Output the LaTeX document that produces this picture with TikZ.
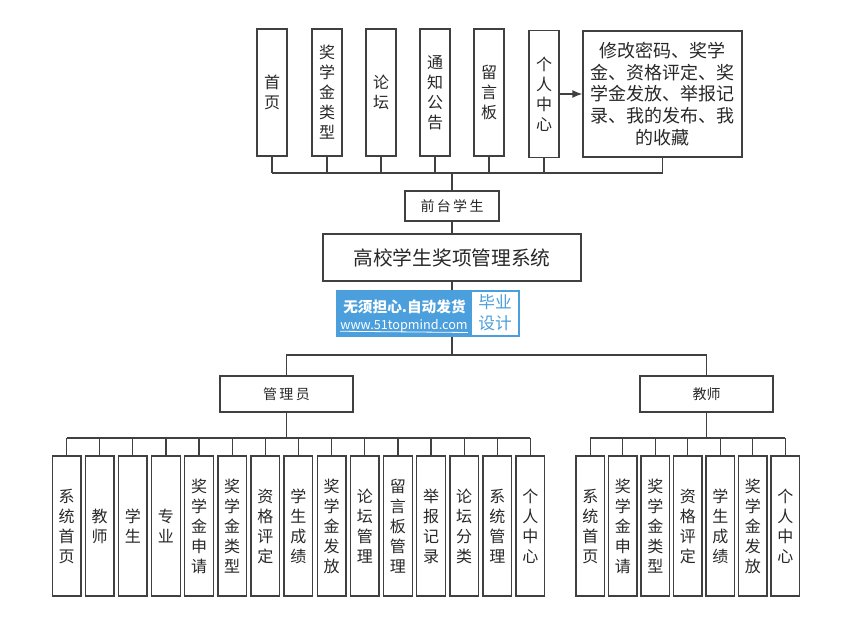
\documentclass[tikz,border=0pt]{standalone}
\usepackage{fontspec}
\newfontfamily\cjk{Noto Sans CJK SC}
\usetikzlibrary{arrows.meta}
\definecolor{lc}{RGB}{64,64,64}
\definecolor{tc}{RGB}{40,40,40}
\definecolor{wm}{RGB}{75,159,220}
\begin{document}
\begin{tikzpicture}[x=0.75pt,y=-0.75pt,
  box/.style={draw=lc,line width=1pt,inner sep=0pt,align=center,text=tc},
  topbox/.style={box,minimum width=22.5pt,minimum height=95.25pt,font=\cjk\fontsize{12}{15}\selectfont},
  botbox/.style={box,minimum width=21.5pt,minimum height=105pt,font=\cjk\fontsize{12}{15}\selectfont},
  link/.style={draw=lc,line width=1pt}]
\useasboundingbox (0,0) rectangle (856,627);
\fill[white] (0,0) rectangle (856,627);

% ---- top level: front-end student
\node[topbox] (t1) at (272,92.5) {首\\页};
\node[topbox] (t2) at (327,92.5) {奖\\学\\金\\类\\型};
\node[topbox] (t3) at (381,92.5) {论\\坛};
\node[topbox] (t4) at (435,92.5) {通\\知\\公\\告};
\node[topbox] (t5) at (489,92.5) {留\\言\\板};
\node[topbox] (t6) at (544,94) {个\\人\\中\\心};
\node[box,minimum width=119.25pt,minimum height=94.5pt,font=\cjk\fontsize{13.5}{16.3}\selectfont] (t7) at (662.5,94)
  {修改密码、奖学\\金、资格评定、奖\\学金发放、举报记\\录、我的发布、我\\的收藏};
\draw[link,-{Latex[length=7.5pt,width=6pt]}] (t6) -- (t7);

\coordinate (tb) at (452,173);
\foreach \n in {t1,t2,t3,t4,t5,t6,t7}{\draw[link] (\n.south) -- (\n.south |- tb);}
\draw[link] (t1.south |- tb) -- (t7.south |- tb);

\node[box,minimum width=70.5pt,minimum height=22.5pt,font=\cjk\fontsize{10.5}{12}\selectfont] (front) at (452,206) {前\,台\,学\,生};
\draw[link] (tb) -- (front.north);

\node[box,minimum width=193.5pt,minimum height=35.25pt,font=\cjk\fontsize{14.8}{16}\selectfont] (main) at (452,257.5) {高校学生奖项管理系统};
\draw[link] (front.south) -- (main.north);

\coordinate (mb) at (452,355);
\node[box,minimum width=99.75pt,minimum height=27pt,font=\cjk\fontsize{10.5}{12}\selectfont] (admin) at (286.5,394) {管\,理\,员};
\node[box,minimum width=99.75pt,minimum height=27pt,font=\cjk\fontsize{10.5}{12}\selectfont] (teach) at (706.5,394) {教师};
\draw[link] (main.south) -- (mb);
\draw[link] (admin.north) -- (admin.north |- mb) -- (teach.north |- mb) -- (teach.north);

% ---- admin modules
\coordinate (ab) at (286.5,438);
\foreach \t [count=\i from 0] in {{系\\统\\首\\页},{教\\师},{学\\生},{专\\业},{奖\\学\\金\\申\\请},{奖\\学\\金\\类\\型},{资\\格\\评\\定},{学\\生\\成\\绩},{奖\\学\\金\\发\\放},{论\\坛\\管\\理},{留\\言\\板\\管\\理},{举\\报\\记\\录},{论\\坛\\分\\类},{系\\统\\管\\理},{个\\人\\中\\心}}{
  \node[botbox] (a\i) at (66.5+33.14*\i,526) {\t};
  \draw[link] (a\i.north) -- (a\i.north |- ab);
}
\draw[link] (admin.south) -- (ab);
\draw[link] (a0.north |- ab) -- (a14.north |- ab);

% ---- teacher modules
\coordinate (bb) at (706.5,438);
\foreach \t [count=\i from 0] in {{系\\统\\首\\页},{奖\\学\\金\\申\\请},{奖\\学\\金\\类\\型},{资\\格\\评\\定},{学\\生\\成\\绩},{奖\\学\\金\\发\\放},{个\\人\\中\\心}}{
  \node[botbox] (b\i) at (590.25+32.5*\i,526) {\t};
  \draw[link] (b\i.north) -- (b\i.north |- bb);
}
\draw[link] (teach.south) -- (bb);
\draw[link] (b0.north |- bb) -- (b6.north |- bb);

% ---- watermark
\node[fill=wm,inner sep=0pt,minimum width=138pt,minimum height=35.25pt] (wmbox) at (428,313.5) {};
\node[fill=white,inner sep=0pt,minimum width=34.5pt,minimum height=32.25pt] (wmw) at (495,313.5) {};
\node[text=white,inner sep=0pt,font=\cjk\bfseries\fontsize{11}{12}\selectfont] (wm1) at (404.5,307) {无须担心.自动发货};
\node[text=white,inner sep=0pt,font=\cjk\fontsize{9.5}{12}\selectfont] (wm2) at (404,326) {www.51topmind.com};
\draw[white,line width=0.6pt] (wm2.south west) ++(0,-1.5) -- (wm2.south east |- 0,332.5);
\node[text=wm,inner sep=0pt,font=\cjk\fontsize{12.5}{12}\selectfont] (wm3) at (495,302) {毕业};
\node[text=wm,inner sep=0pt,font=\cjk\fontsize{12.5}{12}\selectfont] (wm4) at (495,323) {设计};
\end{tikzpicture}
\end{document}
